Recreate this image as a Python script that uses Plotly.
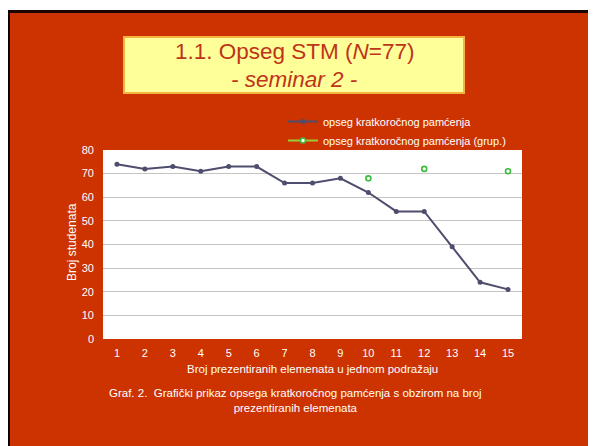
import plotly.graph_objects as go

categories = [str(i) for i in range(1, 16)]
span_values = [74, 72, 73, 71, 73, 73, 66, 66, 68, 62, 54, 54, 39, 24, 21]
group_values = [None, None, None, None, None, None, None, None, None, 68, None, 72, None, None, 71]
y_ticks = [0, 10, 20, 30, 40, 50, 60, 70, 80]

series_names = ["opseg kratkoročnog pamćenja", "opseg kratkoročnog pamćenja (grup.)"]
title_line1 = "1.1. Opseg STM (<i>N</i>=77)"
title_line2 = "<i>- seminar 2 -</i>"
x_title = "Broj prezentiranih elemenata u jednom podražaju"
y_title = "Broj studenata"
caption = "Graf. 2.  Grafički prikaz opsega kratkoročnog pamćenja s obzirom na broj<br>prezentiranih elemenata"

# page is rendered with an 8px body margin; coordinates below are page pixels
OFF = 8
PAGE_W, PAGE_H = 596, 446
W, H = PAGE_W - OFF, PAGE_H - OFF
L, R, T, B = 103, 522, 150, 339
BG = "#CC3300"
FONT = "Arial, Liberation Sans, sans-serif"


def px(x):
    return (x - L) / (R - L)


def py(y):
    return (B - y) / (B - T)


fig = go.Figure()
fig.add_trace(go.Scatter(
    x=categories, y=span_values, name=series_names[0], mode="lines+markers",
    line=dict(color="#4E4D6E", width=2), marker=dict(size=5, color="#4E4D6E"),
))
fig.add_trace(go.Scatter(
    x=categories, y=group_values, name=series_names[1], mode="lines+markers",
    connectgaps=False,
    line=dict(color="#9ACD32", width=2),
    marker=dict(size=5, color="white", symbol="circle", line=dict(color="#3DBB3D", width=1.6)),
))

shapes = [
    # white strip above the slide
    dict(type="rect", xref="paper", yref="paper", x0=px(0), x1=px(PAGE_W + 5), y0=py(0), y1=py(10),
         fillcolor="white", line=dict(width=0), layer="above"),
    # black slide border
    dict(type="rect", xref="paper", yref="paper", x0=px(7), x1=px(PAGE_W + 5), y0=py(10), y1=py(13),
         fillcolor="#1A0500", line=dict(width=0), layer="above"),
    dict(type="rect", xref="paper", yref="paper", x0=px(0), x1=px(10), y0=py(10), y1=py(PAGE_H + 5),
         fillcolor="#0A0000", line=dict(width=0), layer="above"),
    dict(type="rect", xref="paper", yref="paper", x0=px(593), x1=px(PAGE_W + 5), y0=py(10), y1=py(PAGE_H + 5),
         fillcolor="#1A0500", line=dict(width=0), layer="above"),
    # title box
    dict(type="rect", xref="paper", yref="paper", x0=px(124), x1=px(464), y0=py(37), y1=py(93),
         fillcolor="#FFFF99", line=dict(color="#F2B640", width=2), layer="above"),
]

annotations = [
    dict(text=title_line1, x=px(294), y=py(51), xref="paper", yref="paper", showarrow=False,
         xanchor="center", yanchor="middle", font=dict(family=FONT, size=22.5, color="#BE3418")),
    dict(text=title_line2, x=px(294), y=py(80), xref="paper", yref="paper", showarrow=False,
         xanchor="center", yanchor="middle", font=dict(family=FONT, size=22.5, color="#BE3418")),
    dict(text=x_title, x=px(312), y=py(369), xref="paper", yref="paper", showarrow=False,
         xanchor="center", yanchor="middle", font=dict(family=FONT, size=11.5, color="white")),
    dict(text=y_title, x=px(72), y=py(242), xref="paper", yref="paper", showarrow=False,
         textangle=-90, xanchor="center", yanchor="middle", font=dict(family=FONT, size=12, color="white")),
    dict(text=caption, x=px(295), y=py(400), xref="paper", yref="paper", showarrow=False,
         xanchor="center", yanchor="middle", align="center",
         font=dict(family=FONT, size=11.5, color="white")),
]

fig.update_layout(
    width=W, height=H,
    margin=dict(l=L - OFF, r=PAGE_W - R, t=T - OFF, b=PAGE_H - B, pad=0),
    paper_bgcolor=BG, plot_bgcolor="white",
    font=dict(family=FONT, size=11, color="white"),
    showlegend=True,
    legend=dict(x=px(283), y=py(107), xanchor="left", yanchor="top",
                bgcolor="rgba(0,0,0,0)", font=dict(family=FONT, size=11, color="white"),
                itemwidth=30, tracegroupgap=0),
    shapes=shapes,
    annotations=annotations,
    xaxis=dict(type="category", range=[-0.5, 14.5], showgrid=False, zeroline=False,
               showline=False, ticks="", ticklabelstandoff=6,
               tickfont=dict(family=FONT, size=11, color="white"), fixedrange=True),
    yaxis=dict(range=[0, 80], tickvals=y_ticks, showgrid=True, gridcolor="#C4C4C4", gridwidth=1,
               zeroline=False, showline=False, ticks="", ticklabelstandoff=8,
               tickfont=dict(family=FONT, size=11, color="white"), fixedrange=True),
)

fig.write_html("out.html")
